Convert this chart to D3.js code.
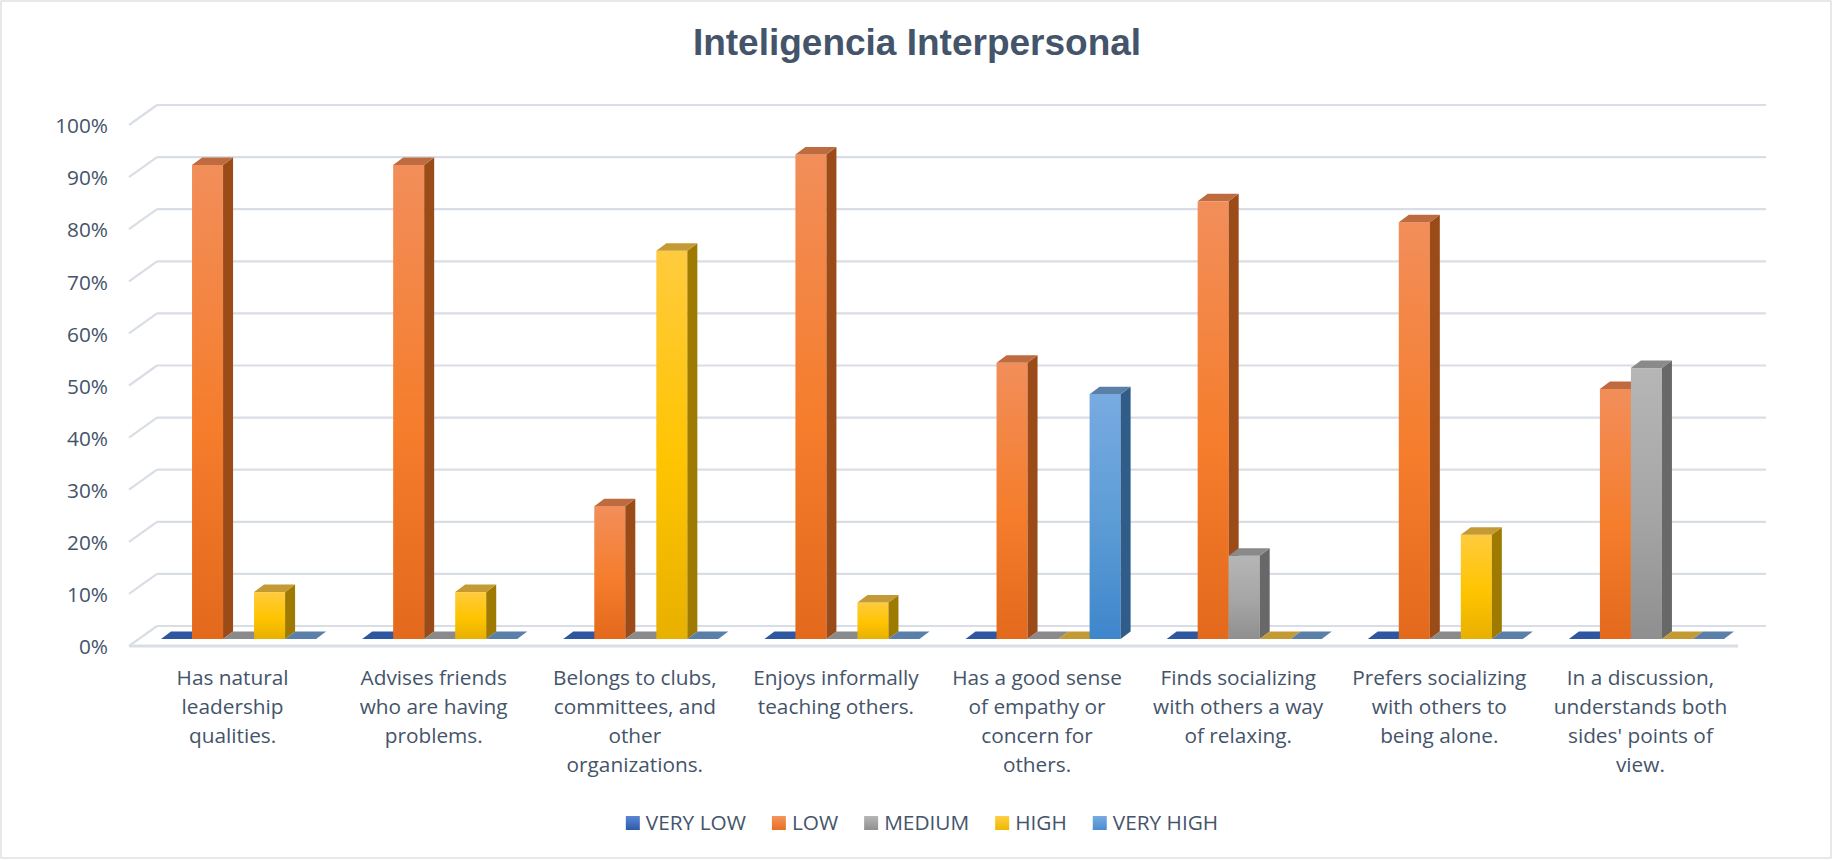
<!DOCTYPE html>
<html>
<head>
<meta charset="utf-8">
<script src="https://cdn.jsdelivr.net/npm/d3@7"></script>
<style>
  html, body { margin: 0; padding: 0; background: #fff; }
  svg { display: block; }
  text { font-family: "Open Sans", "Noto Sans", sans-serif; }
</style>
</head>
<body>
<svg id="chart" width="1834" height="861"></svg>
<script>
// ---------- data ----------
const title = "Inteligencia Interpersonal";
const categories = [
  ["Has natural", "leadership", "qualities."],
  ["Advises friends", "who are having", "problems."],
  ["Belongs to clubs,", "committees, and", "other", "organizations."],
  ["Enjoys informally", "teaching others."],
  ["Has a good sense", "of empathy or", "concern for", "others."],
  ["Finds socializing", "with others a way", "of relaxing."],
  ["Prefers socializing", "with others to", "being alone."],
  ["In a discussion,", "understands both", "sides' points of", "view."]
];
const seriesNames = ["VERY LOW", "LOW", "MEDIUM", "HIGH", "VERY HIGH"];
const veryLow  = [0, 0, 0, 0, 0, 0, 0, 0];
const low      = [91, 91, 25.5, 93, 53, 84, 80, 48];
const medium   = [0, 0, 0, 0, 0, 16, 0, 52];
const high     = [9, 9, 74.5, 7, 0, 0, 20, 0];
const veryHigh = [0, 0, 0, 0, 47, 0, 0, 0];
const yTicks = [0, 10, 20, 30, 40, 50, 60, 70, 80, 90, 100];

const seriesValues = [veryLow, low, medium, high, veryHigh];

// colours: front gradient stops, side, top
const palette = [
  { f: ["#5b87d6", "#4472c4", "#2f5aa8"], side: "#203f78", top: "#2f56a0", leg: ["#5b87d6", "#2f5aa8"] },
  { f: ["#f28e5a", "#f57d2c", "#e3691c"], side: "#9b4b18", top: "#bd6b3f", leg: ["#f39560", "#e96e20"] },
  { f: ["#b6b6b6", "#a5a5a5", "#8f8f8f"], side: "#686868", top: "#8a8a8a", leg: ["#b6b6b6", "#909090"] },
  { f: ["#ffcb3d", "#ffc400", "#e8b000"], side: "#9e7b00", top: "#c49a34", leg: ["#ffcf45", "#f0b800"] },
  { f: ["#78abe1", "#5b9bd5", "#3e86cb"], side: "#2f5c88", top: "#5a80aa", leg: ["#78abe1", "#4a8cd0"] }
];

const textColor = "#44546a";
const gridColor = "#d9dde5";
const fontSize = 20.8;

// ---------- layout ----------
const svg = d3.select("#chart");
const W = 1834, H = 861;

svg.append("rect").attr("x", 1).attr("y", 1).attr("width", W - 4).attr("height", H - 4)
  .attr("fill", "#fff").attr("stroke", "#d9d9d9").attr("stroke-width", 1.2);

const defs = svg.append("defs");
palette.forEach((p, i) => {
  const g = defs.append("linearGradient").attr("id", "front" + i)
    .attr("x1", 0).attr("y1", 0).attr("x2", 0).attr("y2", 1);
  g.append("stop").attr("offset", "0%").attr("stop-color", p.f[0]);
  g.append("stop").attr("offset", "55%").attr("stop-color", p.f[1]);
  g.append("stop").attr("offset", "100%").attr("stop-color", p.f[2]);
  const l = defs.append("linearGradient").attr("id", "leg" + i)
    .attr("x1", 0).attr("y1", 0).attr("x2", 0).attr("y2", 1);
  l.append("stop").attr("offset", "0%").attr("stop-color", p.leg[0]);
  l.append("stop").attr("offset", "100%").attr("stop-color", p.leg[1]);
});

// 3D geometry
const wallDX = 28, wallDY = -20;     // floor depth projection
const barDX = 10, barDY = -7.5;      // bar depth projection
const wallLeft = 157, wallRight = 1766;

// scales
const x0 = d3.scaleBand().domain(d3.range(categories.length)).range([138, 1747]).padding(0);
const x1 = d3.scaleBand().domain(seriesNames).range([0, x0.bandwidth()]).paddingOuter(0.742).paddingInner(0);
const yBar = d3.scaleLinear().domain([0, 100]).range([639, 118]);
const yWall = d3.scaleLinear().domain([0, 100]).range([626, 105]);

// title
svg.append("text").attr("x", 917).attr("y", 55).attr("text-anchor", "middle")
  .style("font-family", "'Liberation Sans', Arial, sans-serif")
  .attr("font-size", 37).attr("font-weight", "bold").attr("fill", textColor).text(title);

// gridlines (back wall + left side diagonal)
const grid = svg.append("g");
yTicks.forEach(t => {
  const yb = yWall(t);
  grid.append("line").attr("x1", wallLeft).attr("x2", wallRight).attr("y1", yb).attr("y2", yb)
    .attr("stroke", gridColor).attr("stroke-width", 2.2);
  grid.append("line").attr("x1", wallLeft - wallDX).attr("y1", yb - wallDY)
    .attr("x2", wallLeft).attr("y2", yb)
    .attr("stroke", gridColor).attr("stroke-width", 2.2);
});
// floor front edge
grid.append("line").attr("x1", wallLeft - wallDX).attr("x2", wallRight - wallDX)
  .attr("y1", yWall(0) - wallDY).attr("y2", yWall(0) - wallDY)
  .attr("stroke", gridColor).attr("stroke-width", 3);

// y axis labels
svg.append("g").selectAll("text").data(yTicks).join("text")
  .attr("x", 108).attr("y", d => yWall(d) + 21).attr("dy", "0.35em")
  .attr("text-anchor", "end").attr("font-size", fontSize).attr("fill", textColor)
  .text(d => d + "%");

// bars
const bars = svg.append("g");
categories.forEach((c, ci) => {
  seriesNames.forEach((s, si) => {
    const v = seriesValues[si][ci];
    const p = palette[si];
    const xl = x0(ci) + x1(s);
    const w = x1.bandwidth();
    const yt = yBar(v), yb = yBar(0);
    const g = bars.append("g");
    if (v > 0) {
      g.append("rect").attr("x", xl).attr("y", yt).attr("width", w).attr("height", yb - yt)
        .attr("fill", `url(#front${si})`);
      g.append("path").attr("d",
        `M${xl + w},${yb} L${xl + w + barDX},${yb + barDY} L${xl + w + barDX},${yt + barDY} L${xl + w},${yt} Z`)
        .attr("fill", p.side);
    }
    g.append("path").attr("d",
      `M${xl},${yt} L${xl + w},${yt} L${xl + w + barDX},${yt + barDY} L${xl + barDX},${yt + barDY} Z`)
      .attr("fill", p.top);
  });
});

// category labels
const labels = svg.append("g");
categories.forEach((lines, ci) => {
  const cx = x0(ci) + x0.bandwidth() / 2 - 6;
  const t = labels.append("text").attr("text-anchor", "middle").attr("font-size", fontSize).attr("fill", textColor);
  lines.forEach((ln, li) => {
    t.append("tspan").attr("x", cx).attr("y", 678 + li * 29).attr("dy", "0.35em").text(ln);
  });
});

// legend
const leg = svg.append("g");
const items = [];
let cur = 0;
seriesNames.forEach((s, si) => {
  const g = leg.append("g");
  g.append("rect").attr("x", 0).attr("y", -7).attr("width", 14).attr("height", 14).attr("fill", `url(#leg${si})`);
  const tx = g.append("text").attr("x", 20).attr("y", 0).attr("dy", "0.35em")
    .attr("font-size", fontSize).attr("fill", textColor).text(s);
  const tw = tx.node().getComputedTextLength();
  items.push({ g, x: cur });
  cur += 20 + tw + 26;
});
const totalW = cur - 26;
const startX = 922 - totalW / 2;
items.forEach(it => it.g.attr("transform", `translate(${startX + it.x},823)`));
</script>
</body>
</html>
